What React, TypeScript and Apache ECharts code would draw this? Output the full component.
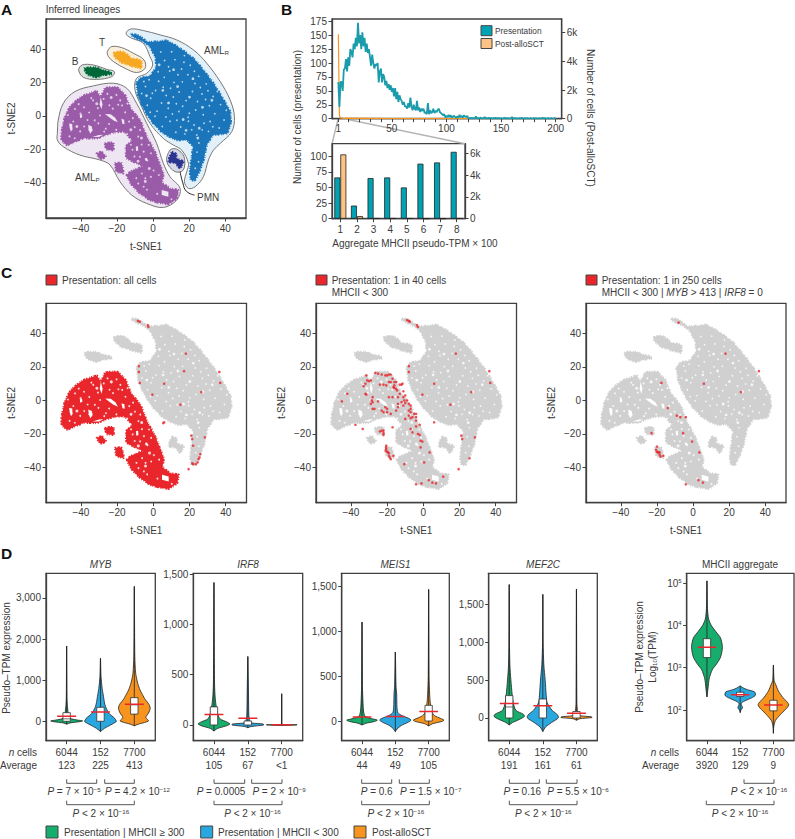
import React, { useEffect, useRef } from "react";
import * as echarts from "echarts";

const FONT = "Liberation Sans";
const INK = "#3a3a3a";
const AXIS = "#404040";
const GREEN = "#17ad6c";
const BLUE = "#29a8e0";
const ORANGE = "#f7941d";
const RED = "#e8262c";
const TEAL = "#00a3b4";
const TEAL_LINE = "#1a9cac";
const PEACH = "#fcc384";

type P = [number, number];

// ---- t-SNE regions (t-SNE1, t-SNE2)
const hullR: P[] = [[-14.6,50.5],[-11.8,52.1],[-5.4,51.1],[3.9,48.5],[13.1,45.5],[22.4,39.5],[29.8,31.5],[37.2,20.6],[42.7,9.6],[45.1,-0.4],[43.6,-9.4],[37.2,-16.4],[33.5,-20.4],[30.7,-26.3],[27.9,-36.3],[23.3,-42.3],[19.6,-43.3],[17.4,-39.3],[18.7,-33.3],[19.6,-28.3],[15.9,-20.4],[11.3,-17.4],[5.7,-13.4],[-1.7,-4.4],[-6.3,5.6],[-10,15.6],[-9.1,22.6],[-3.5,25.5],[-0.2,30.5],[-1.7,35.5],[-5.4,43.5],[-11.8,46.5],[-14.6,48.5]];
const cloudR: P[] = [[-11.8,49.1],[-7.2,47.9],[-3.5,44.5],[2,44.5],[7.6,45.1],[15,40.5],[22.4,34.5],[27.9,27.5],[33.5,19.6],[38.1,11.6],[42.7,2.6],[43.1,-4.4],[40.9,-10.4],[33.5,-11.4],[29.8,-17.4],[28.3,-25.3],[26.1,-32.3],[23.3,-38.3],[20.9,-38.3],[20.5,-32.3],[21.4,-24.4],[22,-18.4],[18.7,-14.4],[13.1,-14.4],[5.7,-10.4],[-0.7,-3.4],[-5.4,4.6],[-8.1,11.6],[-9.1,19.6],[-7.2,22.6],[-1.7,24],[1.7,29.5],[1.1,35.5],[-2.6,42.5],[-8.1,45.9],[-11.8,47.9]];
const hullP: P[] = [[-53,-10.4],[-52.5,-2.4],[-49.7,7.6],[-43.3,14.6],[-33.1,18],[-22,19.6],[-14.6,16.6],[-9.1,7.6],[-3.5,-4.4],[2,-16.4],[5.7,-28.3],[9.4,-36.3],[15,-43.3],[13.1,-50.3],[5.7,-54.7],[-3.5,-52.3],[-11.8,-47.3],[-18.3,-39.3],[-23.8,-29.3],[-29.4,-26.3],[-40.5,-23.4],[-49.7,-18.4],[-53,-14.4]];
const cloudP1: P[] = [[-50.8,-10.4],[-48.8,-0.4],[-45.7,6],[-39.6,11.6],[-31.2,14.8],[-29,11.2],[-26.6,16.6],[-20.1,17.2],[-15.5,12.6],[-12.4,4.6],[-7.2,-2.4],[-3.5,-12.4],[0.6,-20.4],[3.5,-28.3],[2,-32.3],[-5.4,-30.3],[-9.1,-28.3],[-14.6,-25.3],[-15,-18.4],[-11.8,-14.4],[-16.5,-9.4],[-23.8,-10.4],[-31.2,-13.4],[-38.6,-13.4],[-47.9,-17.4],[-50.6,-14.4]];
const cloudP2: P[] = [[-14.6,-35.3],[-10.9,-32.3],[-5.4,-30.3],[3.5,-29.3],[5.7,-34.3],[4.8,-40.3],[0.2,-42.3],[-0.7,-48.3],[2,-51.3],[-1.7,-50.3],[-7.2,-46.3],[-11.8,-41.3]];
const cloudP3: P[] = [[0.2,-41.3],[3.9,-39.3],[9.4,-43.3],[14,-44.3],[13.1,-49.3],[8.5,-52.7],[1.1,-51.3],[-2.6,-49.3],[-3.5,-45.3]];
const cloudP4: P[] = [[-31.2,-22.4],[-28.5,-21.4],[-26.1,-24.4],[-29.4,-25.7]];
const cloudP5: P[] = [[-26.6,-16.4],[-22,-16],[-22,-20.4],[-25.7,-20]];
const cloudP6: P[] = [[-21.1,-28.3],[-17.4,-28.3],[-16.5,-34.3],[-20.1,-33.3]];
const holesP: P[][] = [
  [[4.8,-44.3],[8.5,-45.3],[8.5,-48.3],[4.8,-47.3]],
  [[-29,11.2],[-28,7],[-28.6,4],[-29.6,7]],
  [[-26.6,1.2],[-23.5,1],[-21,-1],[-19.5,-3.8],[-22,-2.6],[-24.5,-0.6]],
  [[-46.5,-4.5],[-44.8,-4.8],[-44.6,-8],[-45.5,-9.4],[-46.2,-7]],
  [[-36,-5.4],[-34,-6.2],[-33.5,-8.6],[-34.8,-10.6],[-35.6,-8.4]],
  [[-40.6,0.6],[-39.4,1.2],[-39.2,-0.8],[-40.4,-1.4]],
  [[-17.6,-1.6],[-16,-2.2],[-15.8,-5],[-17,-4.6]],
  [[-33.6,-12.6],[-30,-11.4],[-27.6,-11.2],[-30,-12.6]],
  [[-9.6,-18.4],[-8.4,-18],[-8.2,-20.6],[-9.4,-21]],
  [[-4.6,-25.4],[-3.4,-25],[-3,-26.6],[-4.2,-26.8]],
];
const hullB: P[] = [[-41.2,27.5],[-39.3,30.5],[-33.1,30.5],[-25.7,27.9],[-21.4,26.5],[-22.9,23.5],[-31.2,21.9],[-38.6,23.1]];
const cloudB: P[] = [[-38.2,28.5],[-32.2,29.1],[-29,27.9],[-24.4,26.5],[-22.5,25.1],[-27.2,24.5],[-31,23.1],[-36,24.5]];
const hullT: P[] = [[-25.3,38.5],[-22.9,41.5],[-17.4,40.9],[-10.9,37.5],[-5,33.5],[-4.4,28.5],[-9.1,26],[-15.5,28.5],[-21.9,32.5],[-24.7,35.5]];
const cloudT: P[] = [[-21.6,37.9],[-16.5,38.5],[-11.8,34.5],[-6.3,33.1],[-6.8,28.5],[-11.8,29.9],[-17.4,31.9],[-21.1,35.1]];
const hullN: P[] = [[7.6,-27.3],[9.4,-20.4],[13.1,-19.8],[17.2,-24.4],[16.8,-32.3],[12.2,-33.3]];
const cloudN: P[] = [[8.5,-27.3],[10.4,-21.4],[12.8,-22.8],[13.1,-25.3],[16.8,-27.3],[15,-31.3],[12.2,-28.3]];
const leaderPMN: P[] = [[15,-33.3],[16.5,-40],[18.5,-45],[23,-47.3]];

const gapsR: P[] = [[4.3,38.2],[8.6,29.4],[12.1,33.7],[17.4,36.1],[20.6,30.3],[6.2,23.1],[13.8,24.6],[25.3,23.7],[29.4,19.2],[3.1,20.8],[-4.2,17.6],[-6.3,13.4],[1.4,15.2],[9.7,16.6],[16.2,20.4],[21.8,14.7],[27.1,13.2],[33.3,11.6],[37.4,6.8],[31.2,6.1],[24.6,8.7],[18.3,9.2],[11.2,11.4],[4.7,7.8],[-1.3,10.6],[2.2,2.9],[8.4,4.6],[14.3,2.7],[20.1,1.6],[27.8,0.7],[34.2,1.3],[39.3,-2.4],[36.6,-7.2],[28.2,-4.3],[22.7,-5.4],[15.3,-6.6],[9.4,-3.2],[5.1,-6.3],[17.6,-10.7],[24.2,-11.4],[30.7,-9.2],[25.4,-16.2],[24.3,-21.6],[25.2,-27.3],[23.4,-31.2],[10.3,38.4],[6.4,33.2],[15.8,28.1],[19.3,24.6],[-2.2,21.7],[-5.1,20.6],[11.6,20.1],[23.2,19.4],[30.4,15.1],[14.4,14.3],[7.3,12.2],[-3.2,6.4],[19.4,-0.8],[31.6,-3.3],[12.6,-9.7],[21.4,-8.2],[2.8,26.4],[9.2,26.9],[17.1,32.2],[22.9,26.8],[-0.4,13.6],[5.6,17.2],[12.9,7.3],[26.2,17.1],[35.6,14.7],[40.6,3.4],[33.1,-6.4],[27.2,-8.3],[16.4,5.8],[7.1,-0.6],[1.1,-0.2],[-1.6,2.3],[10.7,1.2],[29.1,9.8],[23.6,3.6],[19.6,-3.2],[13.2,-2.6]];
const gapsRbig: P[] = [[5.4,15.3],[13.6,17.6],[20.2,11.3],[27.4,5.2],[8.6,7.8],[16.7,-2.1],[25.6,-7.3],[3.4,30.6],[11.4,27.7],[-3.6,12.2],[32.6,9.4],[22.1,22.3],[18.3,-8.6],[24.8,-13.2]];
const gapsP: P[] = [[-46.3,-12.2],[-43.4,-13.3],[-40.2,1.4],[-38.3,5.2],[-35.4,2.1],[-33.2,9.3],[-30.6,4.7],[-27.4,10.2],[-24.2,6.4],[-20.3,12.6],[-17.2,6.3],[-15.4,2.2],[-13.3,-3.4],[-10.2,-6.7],[-14.4,-10.8],[-8.2,-12.3],[-6.3,-17.1],[-11.4,-20.2],[-7.3,-24.4],[-3.2,-26.6],[-1.2,-22.3],[0.3,-32.6],[-4.3,-37.2],[-8.2,-40.4],[-3.4,-44.1],[-44.2,-3.3],[-40.4,-9.2],[-30.3,-4.4],[-26.2,-7.6],[-20.4,-8.3],[-41.2,7.1],[-36.3,-2.4],[-29.4,0.3],[-25.3,13.2],[-18.2,9.3],[-12.3,-17.2],[-9.4,-30.3],[-1.2,-36.4],[3.2,-35.3],[-5.2,-21.3],[-10.3,-24.2],[-42.1,-16.2],[-34.2,10.7],[-22.3,4.4],[-47.2,0.6],[-43.3,4.2],[-38.2,-6.3],[-32.3,-2.6],[-24.4,-4.8],[-19.3,6.7],[-14.2,7.4],[-11.2,-1.3],[-7.2,-8.4],[-2.4,-17.3],[-12.2,-30.6],[-6.2,-34.4],[-9.3,-37.2],[-5.2,-42.3],[2.3,-46.6],[10.2,-49.8],[-35.4,-8.2],[-27.1,-9.3]];
const gapsPbig: P[] = [[-42.2,-6.3],[-31.2,7.3],[-23.2,11.1],[-12.3,-8.2],[-6.4,-13.2],[-8.3,-27.1],[-2.1,-31.4],[-4.3,-39.1]];

// ---- Panel C red cells
const redAll: P[] = [[-8.5,47.5],[-7.5,47],[-3,45],[-2.7,44],[18,28],[-8,20.5],[-8,17],[17,17.5],[36.5,17],[-7.5,10.5],[6,10],[37,10.5],[26.5,5],[-0.5,3.5],[15,-2.5],[6,-13],[5.5,-13.5],[21,-21],[21.5,-23],[28.5,-22],[22,-27],[26,-32],[25.5,-34],[25,-35],[24.5,-37],[23.5,-38],[22,-38],[21.5,-37.5],[19.5,-41]];
const redLow: P[] = [[-26.5,16.5],[-25,16],[-23,15.5],[-21,15],[-20,15],[-19,15.5],[-18,15.5],[-31.5,15],[-17,13],[-16,11],[-18,11],[-19,11],[-15,11],[-31,12],[-30,11.5],[-29,12],[-32,10],[-33,8.5],[-24,9.5],[-22,9.5],[-20.5,9],[-16,9],[-13,9.5],[-12,9.5],[-11.5,10],[-16.5,8],[-16,7.5],[-15,7],[-14.5,6],[-11,5.5],[-13,4],[-32,4],[-31.5,3.5],[-42,4],[-45,-0.5],[-28,2],[-28.5,0],[-19,2],[-17,2],[-14,2],[-11,2],[-10,3],[-10.5,0],[-9,0],[-12,-1],[-10,-1.5],[-14,-2],[-28,-1],[-25,-0.5],[-29,-2],[-27,-5],[-28,-5],[-21,-4],[-20,-5],[-23,-6],[-22,-7],[-20,-7],[-18,-8],[-14,-4],[-11,-3],[-8,-2],[-7,-3],[-15,-6],[-7,-5],[-8,-6],[-10,-11],[-7,-7],[-8,-9],[-6,-10],[-5,-8],[-4,-8],[-4,-10],[-4,-12],[-7,-10.5],[-2,-14.5],[-4,-15.5],[-17,-16],[-7,-17],[-6,-19],[-3,-20],[-2,-20.5],[-37.5,-14.5],[-33.5,-17],[-24,-18.5],[-23,-18],[-22,-18],[-22,-19.5],[-22,-20.5],[-1.5,-24],[-0.5,-24.5],[-1.5,-28],[3.5,-31],[0.5,-37],[-10.5,-38],[-20.5,-27],[-20.5,-28],[-20.5,-29],[-20.8,-30],[-20,-30.5],[-19.5,-31],[-19,-31.5],[-19,-33],[-18.5,-34],[-18,-35],[-16.5,-33],[-4,-50],[-1,-49.5],[3,-47.5],[5,-49],[7,-49.5],[11,-45.5],[-9,48],[-8,47.5],[-7.5,47],[-3.5,45],[-3,44],[18,28],[-8,20.5],[-8,17],[36.5,17.5],[37,10.5],[6,10],[26.5,5],[-0.5,3.5],[15,-2.5],[6,-13],[21,-21],[21.5,-23],[28.5,-22],[25.5,-34.5],[19.5,-41]];
const redRare: P[] = [[-8,46.5],[18,28],[36.5,17.5],[6,10],[26.5,5],[-17.5,10.5],[-14,-4.5],[-9,-9],[-7,-10],[-4,-10],[-5.5,-19.5],[-23,-19.5],[-0.5,-24.5],[3.5,-31],[-20,-27.5],[-20.5,-29.5],[-20,-30.5],[-19.5,-31],[-19,-31],[-18.5,-31],[-18.5,-32.5],[-18,-33.5],[-16.5,-33],[-4,-50],[3,-47.5],[5.5,-49]];

// ---- Panel B
const presentation = [66,21,66,66,50,88,90,107,85,110,95,125,120,110,135,125,145,130,172,135,150,125,155,130,145,120,135,118,125,110,95,115,100,90,98,95,100,65,85,90,65,80,75,60,68,55,62,52,60,48,55,40,55,35,48,30,42,35,32,25,30,22,22,18,28,20,38,22,15,25,18,15,32,15,20,12,18,14,18,10,12,8,28,8,15,10,12,18,10,14,12,16,18,12,10,8,6,8,2,5,3,7,3,6,2,4,5,3,2,4,2,7,3,5,2,6,4,3,5,1,1,0,2,0,1,0,4,0,1,0,2,1,0,1,3,0,1,0,2,0,1,0,1,0,2,0,1,1,0,1,0,0,2,0,1,0,1,0,0,3,0,1,0,1,0,0,1,0,2,0,0,1,0,1,0,0,1,0,0,1,0,1,0,0,1,0,0,2,0,1,0,0,1,0,0,1,0,0,1,0];
const postX = [1,2,3,4,5,6,7,8,50,100,150,200];
const postY = [5900,240,40,40,40,10,10,40,5,5,5,5];
const insetCats = ["1","2","3","4","5","6","7","8"];
const insetPres = [66,21,65,66,50,88,90,107];
const insetPost = [5900,240,40,40,40,10,10,40];

// ---- Panel D: [value, half width of the violin in category units]
type Violin = { shape: P[]; box: P | null; median?: number; mean: number; color: string };
const violinsMYB: Violin[] = [
  { color: GREEN, mean: 123, box: [0,210], median: 60, shape: [[-70,0],[-40,0.1],[-10,0.38],[10,0.47],[30,0.32],[60,0.14],[100,0.07],[200,0.045],[400,0.02],[600,0.01],[1000,0.006],[1830,0.002]] },
  { color: BLUE, mean: 225, box: [0,340], shape: [[-250,0],[-170,0.12],[-90,0.3],[-20,0.45],[0,0.47],[73,0.42],[195,0.25],[356,0.15],[450,0.12],[600,0.09],[800,0.05],[1100,0.015],[1530,0.002]] },
  { color: ORANGE, mean: 413, box: [175,575], median: 400, shape: [[-110,0],[-70,0.12],[-30,0.3],[10,0.42],[50,0.38],[100,0.34],[200,0.42],[320,0.47],[430,0.42],[520,0.33],[650,0.24],[760,0.17],[925,0.1],[1170,0.04],[1570,0.015],[2500,0.006],[3280,0.002]] },
];
const violinsIRF8: Violin[] = [
  { color: GREEN, mean: 105, box: [0,180], shape: [[-60,0],[-35,0.1],[-10,0.35],[10,0.47],[30,0.38],[60,0.18],[100,0.12],[200,0.06],[300,0.03],[450,0.015],[1415,0.002]] },
  { color: BLUE, mean: 67, box: [0,40], shape: [[-27,0],[-15,0.1],[0,0.47],[10,0.45],[20,0.12],[40,0.06],[100,0.03],[300,0.02],[680,0.002]] },
  { color: ORANGE, mean: 2, box: null, shape: [[-5,0],[0,0.45],[3,0.45],[5,0.03],[20,0.005],[310,0.002]] },
];
const violinsMEIS1: Violin[] = [
  { color: GREEN, mean: 44, box: null, shape: [[-45,0],[-25,0.12],[-5,0.38],[10,0.46],[25,0.3],[50,0.1],[100,0.05],[200,0.03],[400,0.012],[1105,0.002]] },
  { color: BLUE, mean: 49, box: null, shape: [[-120,0],[-90,0.05],[-50,0.18],[-15,0.38],[10,0.47],[30,0.4],[60,0.2],[90,0.08],[150,0.05],[300,0.04],[400,0.02],[770,0.002]] },
  { color: ORANGE, mean: 105, box: [0,175], shape: [[-55,0],[-30,0.12],[-5,0.4],[10,0.46],[30,0.35],[60,0.18],[100,0.1],[200,0.05],[300,0.03],[500,0.012],[1470,0.002]] },
];
const violinsMEF2C: Violin[] = [
  { color: GREEN, mean: 191, box: [0,295], median: 145, shape: [[-92,0],[-60,0.1],[-20,0.3],[20,0.45],[50,0.42],[100,0.2],[200,0.12],[300,0.09],[500,0.05],[700,0.02],[1000,0.008],[1760,0.002]] },
  { color: BLUE, mean: 161, box: [0,250], shape: [[-180,0],[-120,0.08],[-60,0.26],[0,0.46],[40,0.44],[100,0.28],[200,0.13],[300,0.1],[500,0.07],[700,0.03],[1000,0.008],[1630,0.002]] },
  { color: ORANGE, mean: 61, box: [0,85], shape: [[-30,0],[-10,0.1],[5,0.46],[15,0.45],[30,0.12],[60,0.05],[100,0.03],[200,0.012],[1700,0.002]] },
];
const violinsMHCII: Violin[] = [
  { color: GREEN, mean: 3.48, box: [3.24,3.685], shape: [[2.31,0],[2.5,0.03],[2.75,0.07],[2.95,0.16],[3.1,0.3],[3.25,0.41],[3.48,0.465],[3.7,0.41],[3.85,0.27],[4,0.13],[4.15,0.05],[4.4,0.015],[5.05,0.002]] },
  { color: BLUE, mean: 2.36, box: [2.32,2.42], shape: [[1.94,0],[2,0.02],[2.05,0.07],[2.1,0.05],[2.15,0.03],[2.2,0.1],[2.27,0.3],[2.33,0.44],[2.38,0.46],[2.43,0.43],[2.48,0.22],[2.52,0.1],[2.57,0]] },
  { color: ORANGE, mean: 2.12, box: [1.98,2.23], shape: [[1.45,0],[1.6,0.01],[1.75,0.06],[1.9,0.22],[2.12,0.46],[2.3,0.28],[2.45,0.15],[2.6,0.07],[2.7,0.02],[3.06,0.002]] },
];
const nCells = ["6044", "152", "7700"];
const avgMYB = ["123", "225", "413"];
const avgIRF8 = ["105", "67", "<1"];
const avgMEIS1 = ["44", "49", "105"];
const avgMEF2C = ["191", "161", "61"];
const avgMHCII = ["3920", "129", "9"];
const ticksMYB = [0, 1000, 2000, 3000];
const ticksExpr = [0, 500, 1000, 1500];
const ticksLog = [2, 3, 4, 5];
const ticksTsne = [-40, -20, 0, 20, 40];

const fmtNum = (v: number) => v.toLocaleString("en-US").replace("-", "\u2212");

const baseAxis = {
  axisLine: { show: true, onZero: false, lineStyle: { color: AXIS, width: 1.3 } },
  axisTick: { show: true, length: 3.5, lineStyle: { color: AXIS, width: 1 } },
  splitLine: { show: false },
};
const labelStyle = { color: INK, fontFamily: FONT, fontSize: 10 };

function valueAxis(gridIndex: number, min: number, max: number, ticks: number[], extra: any = {}) {
  const { labelExtra, tickValues, ...rest } = extra;
  return {
    type: "value", gridIndex, min, max, ...baseAxis,
    axisTick: { ...baseAxis.axisTick, customValues: tickValues || ticks },
    axisLabel: { ...labelStyle, margin: 5, customValues: ticks, formatter: fmtNum, hideOverlap: false, showMinLabel: true, showMaxLabel: true, ...labelExtra },
    ...rest,
  };
}

type Layer = { pts: P[]; fill: string; stroke?: string; width?: number; dash?: number[]; smooth?: number };
function regionSeries(xi: number, yi: number, layers: Layer[]) {
  return {
    type: "custom", xAxisIndex: xi, yAxisIndex: yi, silent: true, clip: true,
    data: layers.map((_, i) => [i, i]),
    renderItem: (params: any, api: any) => {
      const l = layers[params.dataIndex];
      return {
        type: "polygon",
        shape: { points: l.pts.map((p) => api.coord(p)), smooth: l.smooth ?? 0 },
        style: { fill: l.fill, stroke: l.stroke || "none", lineWidth: l.width ?? 0, lineDash: l.dash },
      };
    },
  };
}
function dots(xi: number, yi: number, data: P[], color: string, size: number) {
  return { type: "scatter", xAxisIndex: xi, yAxisIndex: yi, data, symbolSize: size, silent: true, itemStyle: { color } };
}
function gapSeries(xi: number, yi: number, colorR: string, colorP: string) {
  return [
    dots(xi, yi, gapsR, colorR, 1.7),
    dots(xi, yi, gapsRbig, colorR, 2.8),
    dots(xi, yi, gapsP, colorP, 1.9),
    dots(xi, yi, gapsPbig, colorP, 3),
  ];
}
function violinSeries(xi: number, yi: number, list: Violin[]) {
  return {
    type: "custom", xAxisIndex: xi, yAxisIndex: yi, silent: true, clip: true,
    data: list.map((_, i) => [i, i]),
    renderItem: (params: any, api: any) => {
      const c = params.dataIndex;
      const v = list[c];
      const left = v.shape.map(([y, w]) => api.coord([c - w, y]));
      const right = v.shape.slice().reverse().map(([y, w]) => api.coord([c + w, y]));
      const ys = v.shape.map((p) => p[0]);
      const a0 = api.coord([c, ys[0]]);
      const a1 = api.coord([c, ys[ys.length - 1]]);
      const children: any[] = [
        { type: "polygon", shape: { points: [...left, ...right], smooth: 0.25 }, style: { fill: v.color, stroke: "#222", lineWidth: 0.8 } },
        { type: "line", shape: { x1: a0[0], y1: a0[1], x2: a1[0], y2: a1[1] }, style: { stroke: "#222", lineWidth: 0.8 } },
      ];
      if (v.box) {
        const p = api.coord([c - 0.11, v.box[1]]);
        const q = api.coord([c + 0.11, v.box[0]]);
        children.push({ type: "rect", shape: { x: p[0], y: p[1], width: q[0] - p[0], height: q[1] - p[1] }, style: { fill: "#fff", stroke: "#333", lineWidth: 0.8 } });
        if (v.median !== undefined) {
          const m0 = api.coord([c - 0.11, v.median]);
          const m1 = api.coord([c + 0.11, v.median]);
          children.push({ type: "line", shape: { x1: m0[0], y1: m0[1], x2: m1[0], y2: m1[1] }, style: { stroke: "#333", lineWidth: 0.7 } });
        }
      }
      const r0 = api.coord([c - 0.28, v.mean]);
      const r1 = api.coord([c + 0.28, v.mean]);
      children.push({ type: "line", shape: { x1: r0[0], y1: r0[1], x2: r1[0], y2: r1[1] }, style: { stroke: RED, lineWidth: 1.5 } });
      return { type: "group", children };
    },
  };
}

const richBase = (size = 10) => ({
  i: { fontStyle: "italic", fontFamily: FONT, fontSize: size, fill: INK },
  n: { fontFamily: FONT, fontSize: size, fill: INK },
  s: { fontFamily: FONT, fontSize: size * 0.62, fill: INK, verticalAlign: "top" },
  d: { fontFamily: FONT, fontSize: size * 0.62, fill: INK, verticalAlign: "bottom" },
});
function txt(x: number, y: number, text: string, o: any = {}) {
  const { rotation, ...style } = o;
  return {
    type: "text", x, y, rotation: rotation || 0, silent: true,
    style: { text, fill: INK, fontFamily: FONT, fontSize: 10, align: "left", verticalAlign: "middle", rich: richBase(style.fontSize || 10), ...style },
  };
}
function box(x: number, y: number, w: number, h: number, fill: string) {
  return { type: "rect", silent: true, shape: { x, y, width: w, height: h }, style: { fill, stroke: "#444", lineWidth: 1 } };
}
function bracket(x1: number, x2: number, y: number) {
  return { type: "polyline", silent: true, shape: { points: [[x1, y], [x1, y + 4], [x2, y + 4], [x2, y]] }, style: { fill: "none", stroke: "#555", lineWidth: 1 } };
}
function grayLine(x1: number, y1: number, x2: number, y2: number, color = "#b5b5b5", w = 1.5) {
  return { type: "line", silent: true, shape: { x1, y1, x2, y2 }, style: { stroke: color, lineWidth: w } };
}

const TSNE_X: P = [-59.3, 51.5];
const TSNE_Y: P = [-61, 58];
const GRAIN = [1, 1.6, 2.2, 0.8, 1.4, 2, 0.7, 1.1];

function rough(c: string) {
  return { fill: c, stroke: c, width: 2.2, dash: GRAIN, smooth: 0.15 };
}
function clusterLayersA(): Layer[] {
  const hull = { stroke: "#777", width: 1, smooth: 0.35 };
  const purple = "#9a5ba8";
  const bgP = "#efe6f3";
  return [
    { pts: hullR, fill: "#e2f1f9", ...hull },
    { pts: hullP, fill: bgP, ...hull },
    { pts: hullB, fill: "#dbe4dc", ...hull },
    { pts: hullT, fill: "#fbeedb", ...hull },
    { pts: hullN, fill: "#d6d8e8", ...hull },
    { pts: cloudR, ...rough("#1b75bb") },
    { pts: cloudP1, ...rough(purple) },
    { pts: cloudP2, ...rough(purple) },
    { pts: cloudP3, ...rough(purple) },
    { pts: cloudP4, ...rough(purple) },
    { pts: cloudP5, ...rough(purple) },
    { pts: cloudP6, ...rough(purple) },
    ...holesP.map((pts) => ({ pts, fill: bgP })),
    { pts: cloudB, ...rough("#006838") },
    { pts: cloudT, ...rough("#f7a823") },
    { pts: cloudN, ...rough("#2b3590") },
  ];
}
function clusterLayersC(pColor: string): Layer[] {
  const gray = "#d0d0d0";
  return [
    { pts: cloudR, ...rough(gray) },
    { pts: cloudP1, ...rough(pColor) },
    { pts: cloudP2, ...rough(pColor) },
    { pts: cloudP3, ...rough(pColor) },
    { pts: cloudP4, ...rough(pColor) },
    { pts: cloudP5, ...rough(pColor) },
    { pts: cloudP6, ...rough(pColor) },
    ...holesP.map((pts) => ({ pts, fill: "#fff" })),
    { pts: cloudB, ...rough(gray) },
    { pts: cloudT, ...rough(gray) },
    { pts: cloudN, ...rough(gray) },
  ];
}

function buildOption() {
  const border = { show: true, borderColor: AXIS, borderWidth: 1.3, backgroundColor: "transparent" };
  const grids: any[] = [
    { left: 46, top: 19, width: 200, height: 199 },
    { left: 332, top: 19, width: 229.7, height: 99.7 },
    { left: 332, top: 143.7, width: 133, height: 75 },
    { left: 46, top: 303.3, width: 200.5, height: 199.4 },
    { left: 316, top: 303.3, width: 200.5, height: 199.4 },
    { left: 586, top: 303.3, width: 200, height: 199.4 },
    { left: 46, top: 573.3, width: 109.3, height: 167.4 },
    { left: 193.3, top: 573.3, width: 109.4, height: 167.4 },
    { left: 341.7, top: 573.3, width: 107.6, height: 167.4 },
    { left: 488.7, top: 573.3, width: 108.6, height: 167.4 },
    { left: 686.7, top: 573.3, width: 107.3, height: 167.4 },
  ].map((g) => ({ ...g, ...border, containLabel: false }));

  const tsneX = (g: number) => valueAxis(g, TSNE_X[0], TSNE_X[1], ticksTsne, {
    name: "t-SNE1", nameLocation: "middle", nameGap: 23, nameTextStyle: labelStyle,
  });
  const tsneY = (g: number) => valueAxis(g, TSNE_Y[0], TSNE_Y[1], ticksTsne, {
    name: "t-SNE2", nameLocation: "middle", nameGap: 30, nameTextStyle: labelStyle,
  });
  const k = (v: number) => (v === 0 ? "0" : `${v / 1000}k`);
  const violinX = (g: number, avg: string[]) => valueAxis(g, -0.61, 2.62, [0, 1, 2], {
    labelExtra: { formatter: (v: number) => `${nCells[v]}\n${avg[v]}`, lineHeight: 12.3, margin: 6 },
  });

  const xAxis: any[] = [
    tsneX(0),
    valueAxis(1, -4.8, 205.5, [1, 50, 100, 150, 200], { tickValues: [1,10,20,30,40,50,60,70,80,90,100,110,120,130,140,150,160,170,180,190,200] }),
    { type: "category", gridIndex: 2, data: insetCats, ...baseAxis, axisTick: { ...baseAxis.axisTick, alignWithLabel: true }, axisLabel: { ...labelStyle, margin: 6 } },
    tsneX(3), tsneX(4), tsneX(5),
    violinX(6, avgMYB), violinX(7, avgIRF8), violinX(8, avgMEIS1), violinX(9, avgMEF2C), violinX(10, avgMHCII),
  ];
  const yAxis: any[] = [
    tsneY(0),                                                                     // 0
    valueAxis(1, 0, 179, [0, 25, 50, 75, 100, 125, 150, 175]),                     // 1
    valueAxis(1, 0, 6956, [0, 2000, 4000, 6000], { position: "right", labelExtra: { formatter: k } }), // 2
    valueAxis(2, 0, 120, [0, 25, 50, 75, 100]),                                    // 3
    valueAxis(2, 0, 6880, [0, 2000, 4000, 6000], { position: "right", labelExtra: { formatter: k } }), // 4
    tsneY(3), tsneY(4), tsneY(5),                                                  // 5,6,7
    valueAxis(6, -472, 3600, ticksMYB),                                            // 8
    valueAxis(7, -156, 1507, ticksExpr),                                           // 9
    valueAxis(8, -220, 1650, ticksExpr),                                           // 10
    valueAxis(9, -300, 1909, ticksExpr),                                           // 11
    valueAxis(10, 1.275, 5.23, ticksLog, {
      labelExtra: {
        formatter: (v: number) => `{b|10}{e|${v}}`,
        rich: {
          b: { fontFamily: FONT, fontSize: 10, color: INK },
          e: { fontFamily: FONT, fontSize: 6, color: INK, verticalAlign: "top" },
        },
      },
    }),                                                                             // 12
  ];

  const series: any[] = [
    // A
    regionSeries(0, 0, clusterLayersA()),
    ...gapSeries(0, 0, "#e2f1f9", "#efe6f3"),
    { type: "line", xAxisIndex: 0, yAxisIndex: 0, data: leaderPMN, smooth: 0.5, symbol: "none", silent: true, lineStyle: { color: "#222", width: 1 } },
    // B
    { type: "line", name: "Presentation", xAxisIndex: 1, yAxisIndex: 1, data: presentation.map((v, i) => [i + 1, v]), symbol: "none", silent: true, lineStyle: { color: TEAL_LINE, width: 1.8 }, z: 3 },
    { type: "line", name: "Post-alloSCT", xAxisIndex: 1, yAxisIndex: 2, data: postX.map((x, i) => [x, postY[i]]), symbol: "none", silent: true, lineStyle: { color: ORANGE, width: 1.2 }, z: 2 },
    { type: "bar", xAxisIndex: 2, yAxisIndex: 3, data: insetPres, barWidth: 6, barGap: "0%", silent: true, itemStyle: { color: TEAL, borderColor: "#222", borderWidth: 0.8 } },
    { type: "bar", xAxisIndex: 2, yAxisIndex: 4, data: insetPost, barWidth: 6, barGap: "0%", silent: true, itemStyle: { color: PEACH, borderColor: "#222", borderWidth: 0.8 } },
    // C
    regionSeries(3, 5, clusterLayersC(RED)),
    ...gapSeries(3, 5, "#fff", "#fff"),
    dots(3, 5, redAll, RED, 2.6),
    regionSeries(4, 6, clusterLayersC("#d0d0d0")),
    ...gapSeries(4, 6, "#fff", "#fff"),
    dots(4, 6, redLow, RED, 2.6),
    regionSeries(5, 7, clusterLayersC("#d0d0d0")),
    ...gapSeries(5, 7, "#fff", "#fff"),
    dots(5, 7, redRare, RED, 2.6),
    // D
    violinSeries(6, 8, violinsMYB),
    violinSeries(7, 9, violinsIRF8),
    violinSeries(8, 10, violinsMEIS1),
    violinSeries(9, 11, violinsMEF2C),
    violinSeries(10, 12, violinsMHCII),
  ];

  const UP = Math.PI / 2;
  const Y1 = 791.7, Y2 = 813.7, B1 = 779.3, B2 = 800.7;
  const c = { align: "center" as const };
  const graphic: any[] = [
    // panel letters
    txt(1, 9, "A", { fontSize: 15.5, fontWeight: "bold", fill: "#111" }),
    txt(281, 9, "B", { fontSize: 15.5, fontWeight: "bold", fill: "#111" }),
    txt(1, 272, "C", { fontSize: 15.5, fontWeight: "bold", fill: "#111" }),
    txt(1, 553, "D", { fontSize: 15.5, fontWeight: "bold", fill: "#111" }),
    // A
    txt(45.7, 9.3, "Inferred lineages"),
    txt(102, 42, "T", c),
    txt(75, 61, "B", c),
    txt(204, 50, "{n|AML}{d|R}"),
    txt(75, 177, "{n|AML}{d|P}"),
    txt(197, 197, "PMN"),
    // B
    box(481, 25.7, 11, 10, TEAL),
    txt(495, 30.7, "Presentation", { fontSize: 8.3 }),
    box(481, 38.5, 11, 10, PEACH),
    txt(495, 43.5, "Post-alloSCT", { fontSize: 8.3 }),
    grayLine(332, 143.7, 338, 119.5),
    grayLine(465, 143.7, 348, 119.5),
    txt(297, 117, "Number of cells (presentation)", { ...c, rotation: UP }),
    txt(590, 118, "Number of cells (Post-alloSCT)", { ...c, rotation: -UP }),
    txt(415, 243, "Aggregate MHCII pseudo-TPM \u00d7 100", c),
    // C
    box(46, 275, 11, 10, RED),
    txt(62, 280, "Presentation: all cells"),
    box(316, 275, 11, 10, RED),
    txt(331.7, 280, "Presentation: 1 in 40 cells"),
    txt(331.7, 292.3, "MHCII < 300"),
    box(586, 275, 11, 10, RED),
    txt(601.7, 280, "Presentation: 1 in 250 cells"),
    txt(601.7, 292.3, "{n|MHCII < 300 | }{i|MYB}{n| > 413 | }{i|IRF8}{n| = 0}"),
    // D titles
    txt(100.6, 564, "MYB", { ...c, fontStyle: "italic" }),
    txt(248, 564, "IRF8", { ...c, fontStyle: "italic" }),
    txt(395.5, 564, "MEIS1", { ...c, fontStyle: "italic" }),
    txt(543, 564, "MEF2C", { ...c, fontStyle: "italic" }),
    txt(740, 564, "MHCII aggregate", c),
    txt(6, 658, "Pseudo\u2013TPM expression", { ...c, rotation: UP }),
    txt(639, 657, "Pseudo\u2013TPM expression", { ...c, rotation: UP }),
    txt(652, 657, "{n|Log}{d|10}{n|(TPM)}", { ...c, rotation: UP }),
    txt(37, 752.7, "{i|n}{n| cells}", { align: "right" }),
    txt(37, 765, "Average", { align: "right" }),
    txt(679, 752.7, "{i|n}{n| cells}", { align: "right" }),
    txt(679, 765, "Average", { align: "right" }),
    // brackets
    bracket(66.7, 96.7, B1), bracket(104.7, 134.3, B1), bracket(66.7, 134.3, B2),
    bracket(214, 244.7, B1), bracket(251.7, 282, B1), bracket(214, 282, B2),
    bracket(361.7, 391.7, B1), bracket(399.3, 429.3, B1), bracket(361.7, 429.3, B2),
    bracket(509.3, 539.3, B1), bracket(546.3, 577, B1), bracket(509.3, 577, B2),
    bracket(744, 774, B1), bracket(706.3, 774, B2),
    // P values
    txt(74, Y1, "{i|P}{n| = 7 \u00d7 10}{s|\u22125}", c),
    txt(137.5, Y1, "{i|P}{n| = 4.2 \u00d7 10}{s|\u221212}", c),
    txt(100.8, Y2, "{i|P}{n| < 2 \u00d7 10}{s|\u221216}", c),
    txt(221, Y1, "{i|P}{n| = 0.0005}", c),
    txt(279, Y1, "{i|P}{n| = 2 \u00d7 10}{s|\u22129}", c),
    txt(252.5, Y2, "{i|P}{n| < 2 \u00d7 10}{s|\u221216}", c),
    txt(376.7, Y1, "{i|P}{n| = 0.6}", c),
    txt(430.7, Y1, "{i|P}{n| = 1.5 \u00d7 10}{s|\u22127}", c),
    txt(395.8, Y2, "{i|P}{n| < 2 \u00d7 10}{s|\u221216}", c),
    txt(522.3, Y1, "{i|P}{n| = 0.16}", c),
    txt(578, Y1, "{i|P}{n| = 5.5 \u00d7 10}{s|\u22126}", c),
    txt(543.2, Y2, "{i|P}{n| < 2 \u00d7 10}{s|\u221216}", c),
    txt(759, Y1, "{i|P}{n| < 2 \u00d7 10}{s|\u221216}", c),
    txt(740, Y2, "{i|P}{n| < 2 \u00d7 10}{s|\u221216}", c),
    // D legend
    box(46, 826, 12, 12, GREEN),
    txt(64, 832.7, "Presentation | MHCII \u2265 300"),
    box(200.7, 826, 12, 12, BLUE),
    txt(218, 832.7, "Presentation | MHCII < 300"),
    box(354, 826, 12, 12, ORANGE),
    txt(372, 832.7, "Post-alloSCT"),
  ];

  return { animation: false, backgroundColor: "#fff", textStyle: { fontFamily: FONT }, tooltip: { show: false }, grid: grids, xAxis, yAxis, series, graphic: { elements: graphic } };
}

export default function App() {
  const ref = useRef<HTMLDivElement>(null);
  useEffect(() => {
    document.body.style.margin = "0";
    const chart = echarts.init(ref.current!, undefined, { renderer: "svg" });
    chart.setOption(buildOption() as any);
    return () => chart.dispose();
  }, []);
  return <div ref={ref} style={{ width: 795, height: 839 }} />;
}
